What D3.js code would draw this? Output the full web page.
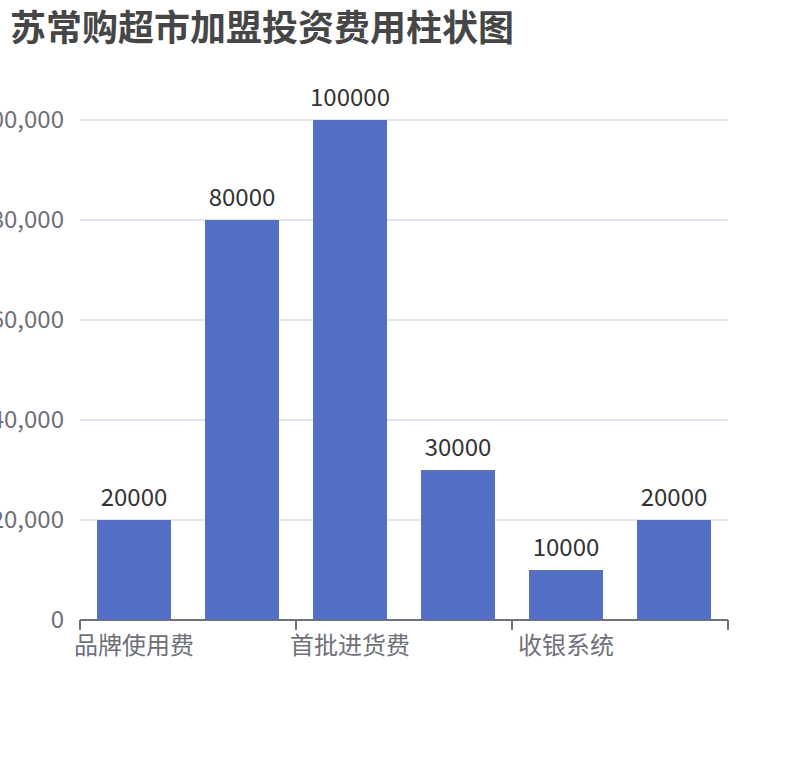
<!DOCTYPE html>
<html>
<head>
<meta charset="utf-8">
<script src="https://cdn.jsdelivr.net/npm/d3@7/dist/d3.min.js"></script>
<style>
  html, body { margin: 0; padding: 0; background: #fff; }
  svg { display: block; font-family: "Noto Sans CJK SC", "Noto Sans", sans-serif; }
</style>
</head>
<body>
<svg id="chart" width="810" height="760"></svg>
<script>
// Chart data (every other category label is hidden, as in the reference)
const titleText = '苏常购超市加盟投资费用柱状图';
const categories = ['品牌使用费', '装修费', '首批进货费', '设备费', '收银系统', '其他费用'];
const values = [20000, 80000, 100000, 30000, 10000, 20000];
const yTicks = [0, 20000, 40000, 60000, 80000, 100000];

const width = 810;
const height = 760;
const margin = { top: 120, right: 82, bottom: 140, left: 80 };

const svg = d3.select('#chart');

// Title
svg.append('text')
  .attr('x', 10)
  .attr('y', 41)
  .style('font-size', '36px')
  .style('font-weight', 'bold')
  .style('fill', '#464646')
  .text(titleText);

const x = d3.scaleBand()
  .domain(categories)
  .range([margin.left, width - margin.right])
  .paddingInner(0.315)
  .paddingOuter(0.1575);

const y = d3.scaleLinear()
  .domain([0, 100000])
  .range([height - margin.bottom, margin.top]);

const fmt = d3.format(',');

// Grid lines
svg.append('g')
  .selectAll('line')
  .data(yTicks.slice(1))
  .join('line')
    .attr('x1', margin.left)
    .attr('x2', width - margin.right)
    .attr('y1', (d) => y(d))
    .attr('y2', (d) => y(d))
    .style('stroke', '#e0e6f1')
    .style('stroke-width', 2);

// Y axis labels (no line, no ticks)
svg.append('g')
  .selectAll('text')
  .data(yTicks)
  .join('text')
    .attr('x', margin.left - 16)
    .attr('y', (d) => y(d))
    .attr('dy', '0.35em')
    .attr('text-anchor', 'end')
    .style('font-size', '24px')
    .style('fill', '#6e7079')
    .text((d) => fmt(d));

// Bars
svg.append('g')
  .selectAll('rect')
  .data(values)
  .join('rect')
    .attr('x', (d, i) => x(categories[i]))
    .attr('y', (d) => y(d))
    .attr('width', x.bandwidth())
    .attr('height', (d) => y(0) - y(d))
    .style('fill', '#5470c6');

// Value labels
svg.append('g')
  .selectAll('text')
  .data(values)
  .join('text')
    .attr('x', (d, i) => x(categories[i]) + x.bandwidth() / 2)
    .attr('y', (d) => y(d) - 14)
    .attr('text-anchor', 'middle')
    .style('font-size', '24px')
    .style('fill', '#333')
    .text((d) => d);

// X axis line
const axisY = y(0);
svg.append('line')
  .attr('x1', margin.left)
  .attr('x2', width - margin.right)
  .attr('y1', axisY)
  .attr('y2', axisY)
  .style('stroke', '#6e7079')
  .style('stroke-width', 2);

// Ticks on every second category boundary
const boundaries = d3.range(0, categories.length + 1, 2)
  .map((i) => margin.left + (width - margin.right - margin.left) * i / categories.length);
svg.append('g')
  .selectAll('line')
  .data(boundaries)
  .join('line')
    .attr('x1', (d) => d)
    .attr('x2', (d) => d)
    .attr('y1', axisY)
    .attr('y2', axisY + 10)
    .style('stroke', '#6e7079')
    .style('stroke-width', 2);

// Category labels, interval 1
svg.append('g')
  .selectAll('text')
  .data(categories.filter((d, i) => i % 2 === 0))
  .join('text')
    .attr('x', (d) => x(d) + x.bandwidth() / 2)
    .attr('y', axisY + 14)
    .attr('dy', '0.85em')
    .attr('text-anchor', 'middle')
    .style('font-size', '24px')
    .style('fill', '#6e7079')
    .text((d) => d);
</script>
</body>
</html>
